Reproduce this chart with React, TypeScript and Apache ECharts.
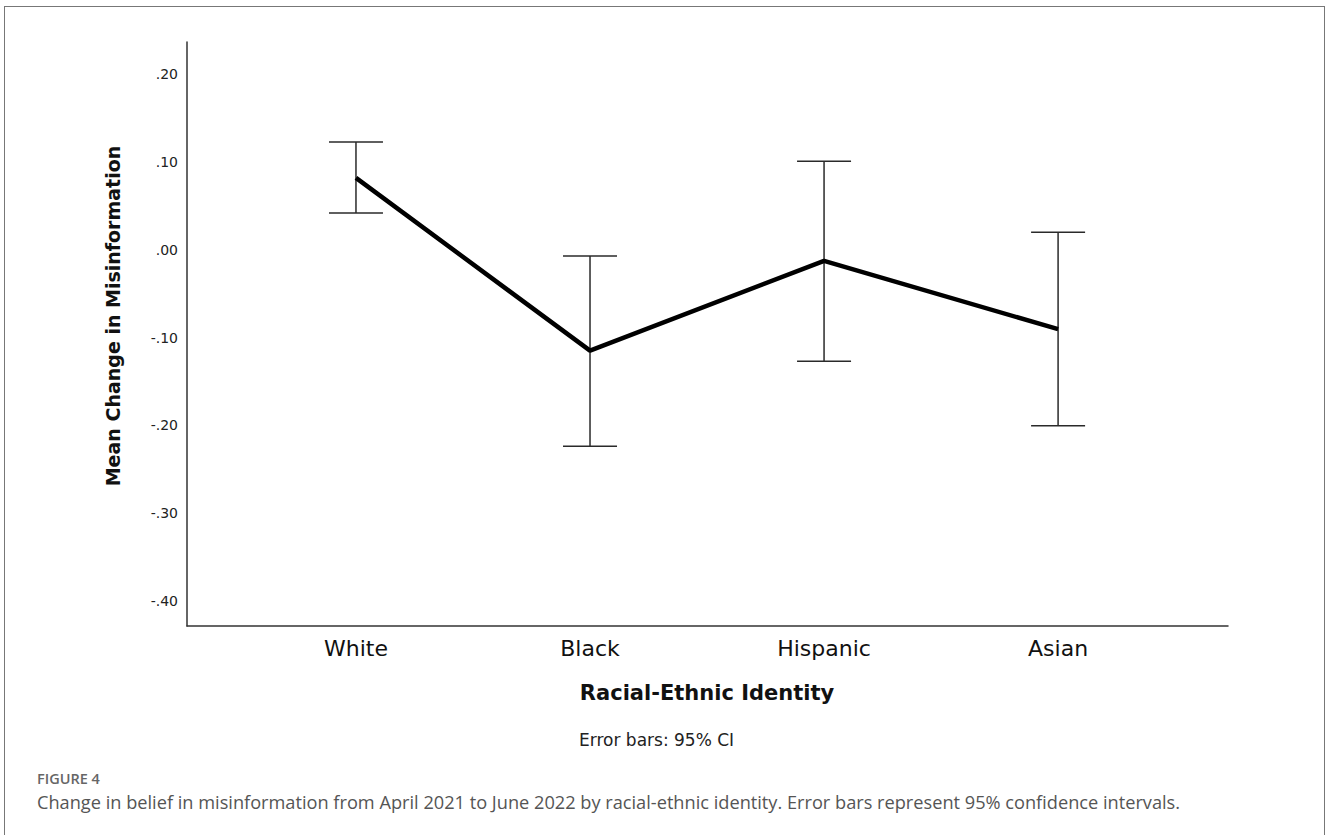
import React, { useEffect, useRef } from "react";
import * as echarts from "echarts";

const categories = ["White", "Black", "Hispanic", "Asian"];
const means = [0.082, -0.115, -0.0126, -0.0905];
const ciLow = [0.042, -0.224, -0.127, -0.2005];
const ciHigh = [0.123, -0.007, 0.101, 0.02];
const yTicks = [-0.4, -0.3, -0.2, -0.1, 0, 0.1, 0.2];
const xPositions = [0, 1, 2, 3];

const yTitle = "Mean Change in Misinformation";
const xTitle = "Racial-Ethnic Identity";
const note = "Error bars: 95% CI";
const figLabel = "FIGURE 4";
const caption =
  "Change in belief in misinformation from April 2021 to June 2022 by racial-ethnic identity. Error bars represent 95% confidence intervals.";

const fmtTick = (v: number) => {
  const s = Math.abs(v).toFixed(2).replace(/^0/, "");
  return v < -1e-9 ? "-" + s : s;
};

export default function App() {
  const ref = useRef<HTMLDivElement>(null);
  useEffect(() => {
    document.body.style.margin = "0";
    const chart = echarts.init(ref.current!, undefined, { renderer: "svg" });
    const font = "DejaVu Sans";
    chart.setOption({
      animation: false,
      backgroundColor: "#fff",
      grid: { left: 187, top: 42, right: 99, bottom: 209 },
      xAxis: {
        type: "value",
        min: -0.722,
        max: 3.726,
        splitLine: { show: false },
        axisTick: { show: false },
        axisLine: { show: true, onZero: false, lineStyle: { color: "#333", width: 1.5 } },
        axisLabel: {
          customValues: xPositions,
          formatter: (v: number) => categories[Math.round(v)] ?? "",
          fontFamily: font,
          fontSize: 22,
          color: "#111",
          margin: 11,
        },
      },
      yAxis: {
        type: "value",
        min: -0.429,
        max: 0.237,
        splitLine: { show: false },
        axisTick: { show: false },
        axisLine: { show: true, onZero: false, lineStyle: { color: "#333", width: 1.5 } },
        axisLabel: {
          customValues: yTicks,
          formatter: fmtTick,
          fontFamily: font,
          fontSize: 14,
          color: "#222",
          margin: 9,
        },
      },
      series: [
        {
          type: "custom",
          z: 2,
          data: xPositions.map((x, i) => [x, ciLow[i], ciHigh[i]]),
          renderItem: (params: any, api: any) => {
            const x = api.value(0);
            const lo = api.coord([x, api.value(1)]);
            const hi = api.coord([x, api.value(2)]);
            const hw = 27;
            const st = { stroke: "#2a2a2a", lineWidth: 1.5 };
            return {
              type: "group",
              children: [
                { type: "line", shape: { x1: lo[0], y1: lo[1], x2: hi[0], y2: hi[1] }, style: st },
                { type: "line", shape: { x1: lo[0] - hw, y1: lo[1], x2: lo[0] + hw, y2: lo[1] }, style: st },
                { type: "line", shape: { x1: hi[0] - hw, y1: hi[1], x2: hi[0] + hw, y2: hi[1] }, style: st },
              ],
            };
          },
        },
        {
          type: "line",
          z: 3,
          data: xPositions.map((x, i) => [x, means[i]]),
          symbol: "none",
          lineStyle: { color: "#000", width: 4.5 },
        },
      ],
      graphic: [
        {
          type: "text",
          x: 113,
          y: 316,
          rotation: Math.PI / 2,
          style: {
            text: yTitle,
            font: `bold 19px "${font}"`,
            fill: "#111",
            textAlign: "center",
            textVerticalAlign: "middle",
          },
        },
        {
          type: "text",
          x: 707,
          y: 693,
          style: {
            text: xTitle,
            font: `bold 21px "${font}"`,
            fill: "#111",
            textAlign: "center",
            textVerticalAlign: "middle",
          },
        },
        {
          type: "text",
          x: 579,
          y: 740,
          style: {
            text: note,
            font: `17px "${font}"`,
            fill: "#222",
            textAlign: "left",
            textVerticalAlign: "middle",
          },
        },
        {
          type: "text",
          x: 37,
          y: 778,
          style: {
            text: figLabel,
            font: `600 14.5px "Open Sans"`,
            fill: "#666",
            textAlign: "left",
            textVerticalAlign: "middle",
          },
        },
        {
          type: "text",
          x: 37,
          y: 802,
          style: {
            text: caption,
            font: `18.2px "Open Sans"`,
            fill: "#555",
            textAlign: "left",
            textVerticalAlign: "middle",
          },
        },
      ],
    });
    return () => chart.dispose();
  }, []);
  return (
    <div style={{ position: "fixed", left: 0, top: 0, width: 1327, height: 835, overflow: "hidden", background: "#fff" }}>
      <div ref={ref} style={{ position: "absolute", left: 0, top: 0, width: 1327, height: 835 }} />
      <div
        style={{
          position: "absolute",
          left: 4,
          top: 6,
          width: 1319,
          height: 900,
          borderTop: "1.5px solid #777",
          borderLeft: "1.5px solid #777",
          borderRight: "1.5px solid #777",
          pointerEvents: "none",
        }}
      />
    </div>
  );
}
